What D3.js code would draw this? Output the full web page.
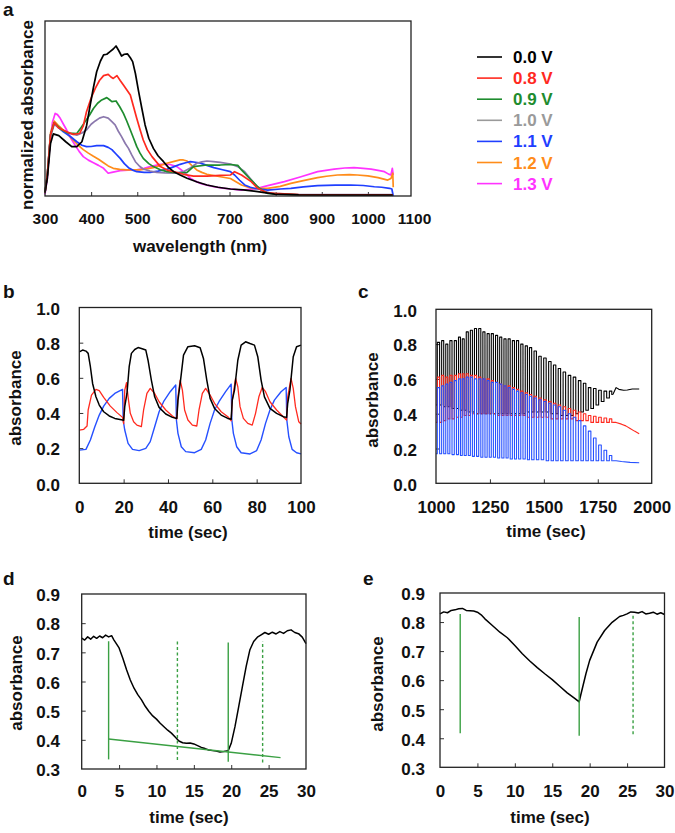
<!DOCTYPE html>
<html><head><meta charset="utf-8">
<script src="https://cdn.jsdelivr.net/npm/d3@7"></script>
<style>
body{margin:0;background:#fff}
svg{display:block;background:#fff}
text{font-family:'Liberation Sans',Arial,Helvetica,sans-serif;font-weight:bold}
</style>
</head><body>
<svg id="chart" width="675" height="833"></svg>
<script>
// ---------------- DATA ----------------
// Panel a: normalized absorbance spectra [wavelength nm, value]
const specLabels = ["0.0 V","0.8 V","0.9 V","1.0 V","1.1 V","1.2 V","1.3 V"];
const spec00 = [[300,0.02],[305,0.1],[312,0.3],[318,0.355],[330,0.345],[345,0.31],[358,0.282],[369,0.282],[380,0.31],[390,0.40],[398,0.52],[405,0.62],[412,0.71],[420,0.77],[427,0.806],[434,0.81],[441,0.825],[448,0.84],[454,0.857],[460,0.83],[466,0.80],[472,0.81],[479,0.812],[485,0.79],[490,0.768],[496,0.70],[503,0.596],[510,0.50],[517,0.406],[525,0.33],[535,0.272],[545,0.23],[557,0.196],[567,0.165],[579,0.139],[593,0.12],[608,0.101],[630,0.08],[651,0.063],[675,0.05],[702,0.04],[730,0.035],[761,0.025],[798,0.011],[850,0.006],[950,0.005],[1054,0.005]];
const spec08 = [[300,0.02],[305,0.12],[312,0.35],[320,0.42],[329,0.39],[347,0.367],[361,0.352],[375,0.357],[383,0.40],[390,0.482],[400,0.56],[409,0.615],[418,0.66],[427,0.688],[437,0.695],[443,0.68],[448,0.672],[456,0.688],[463,0.66],[470,0.634],[485,0.577],[492,0.51],[499,0.443],[506,0.38],[513,0.32],[522,0.265],[532,0.225],[550,0.168],[565,0.148],[579,0.139],[600,0.124],[622,0.114],[651,0.114],[680,0.118],[702,0.12],[711,0.139],[726,0.12],[747,0.082],[761,0.044],[780,0.02],[798,0.015],[850,0.008],[950,0.006],[1054,0.006]];
const spec09 = [[300,0.02],[305,0.12],[312,0.35],[320,0.42],[335,0.38],[350,0.36],[369,0.357],[378,0.39],[387,0.425],[396,0.46],[405,0.50],[414,0.53],[423,0.549],[434,0.562],[440,0.55],[445,0.539],[454,0.543],[462,0.51],[470,0.472],[477,0.43],[485,0.377],[492,0.33],[499,0.282],[506,0.245],[513,0.215],[525,0.185],[535,0.168],[550,0.15],[564,0.139],[593,0.13],[608,0.135],[622,0.168],[651,0.177],[680,0.177],[702,0.18],[718,0.175],[726,0.149],[740,0.11],[747,0.091],[761,0.053],[775,0.025],[783,0.015],[850,0.006],[950,0.005],[1054,0.005]];
const spec10 = [[300,0.02],[305,0.12],[312,0.34],[320,0.41],[335,0.38],[350,0.36],[369,0.348],[380,0.36],[390,0.377],[400,0.41],[409,0.429],[418,0.445],[427,0.453],[437,0.445],[445,0.425],[452,0.406],[459,0.37],[466,0.339],[474,0.30],[481,0.272],[488,0.235],[496,0.196],[505,0.17],[513,0.154],[528,0.142],[542,0.135],[560,0.132],[579,0.13],[600,0.139],[615,0.16],[629,0.187],[640,0.195],[651,0.2],[665,0.196],[680,0.192],[702,0.183],[718,0.168],[733,0.139],[745,0.1],[754,0.072],[768,0.034],[790,0.015],[850,0.008],[950,0.008],[1054,0.008]];
const spec11 = [[300,0.02],[305,0.12],[312,0.35],[320,0.415],[330,0.39],[340,0.367],[355,0.34],[369,0.31],[380,0.29],[390,0.282],[400,0.283],[412,0.288],[427,0.288],[437,0.278],[445,0.265],[454,0.24],[463,0.215],[472,0.185],[481,0.162],[490,0.148],[499,0.139],[515,0.135],[528,0.135],[545,0.142],[564,0.152],[580,0.168],[593,0.181],[605,0.19],[615,0.196],[626,0.193],[637,0.188],[651,0.175],[666,0.162],[685,0.15],[702,0.139],[711,0.12],[722,0.09],[733,0.063],[745,0.05],[754,0.044],[783,0.034],[810,0.04],[833,0.044],[860,0.052],[891,0.059],[930,0.062],[963,0.063],[990,0.06],[1014,0.053],[1030,0.05],[1047,0.044],[1052,0.04],[1055,0.0]];
const spec12 = [[300,0.02],[305,0.12],[312,0.36],[320,0.428],[330,0.40],[340,0.377],[350,0.35],[361,0.32],[372,0.29],[383,0.265],[394,0.245],[405,0.227],[416,0.21],[427,0.19],[437,0.172],[448,0.158],[462,0.152],[477,0.149],[506,0.149],[520,0.155],[535,0.162],[550,0.175],[564,0.187],[580,0.198],[593,0.206],[600,0.206],[608,0.2],[618,0.175],[629,0.149],[640,0.135],[651,0.124],[666,0.117],[680,0.11],[702,0.10],[726,0.063],[747,0.044],[783,0.044],[810,0.055],[833,0.072],[860,0.088],[891,0.105],[910,0.113],[934,0.12],[960,0.122],[977,0.12],[1000,0.115],[1022,0.105],[1043,0.091],[1050,0.1],[1054,0.13],[1055,0.05]];
const spec13 = [[300,0.01],[305,0.1],[311,0.31],[316,0.42],[322,0.472],[327,0.465],[333,0.444],[340,0.41],[347,0.377],[356,0.33],[365,0.291],[374,0.255],[383,0.225],[394,0.205],[405,0.19],[416,0.175],[427,0.158],[437,0.13],[445,0.135],[463,0.145],[480,0.148],[499,0.149],[515,0.158],[528,0.168],[540,0.175],[550,0.181],[560,0.182],[571,0.18],[586,0.168],[595,0.15],[600,0.139],[608,0.12],[615,0.101],[626,0.085],[637,0.072],[651,0.062],[666,0.053],[685,0.045],[702,0.04],[726,0.034],[754,0.04],[783,0.059],[819,0.082],[855,0.11],[891,0.139],[927,0.154],[950,0.16],[970,0.162],[990,0.158],[1007,0.154],[1025,0.145],[1036,0.139],[1045,0.125],[1050,0.12],[1053,0.158],[1055,0.12]];
const aTicks = [300,400,500,600,700,800,900,1000,1100];

// Panel b: absorbance vs time (0-100 s)
const bBlack = [[0,0.748],[1.5,0.758],[3,0.752],[4,0.739],[5,0.663],[6,0.568],[7.5,0.492],[9,0.445],[11,0.407],[13.5,0.383],[16,0.369],[19.5,0.36],[20,0.358],[20.5,0.436],[21.5,0.511],[22.5,0.663],[23.5,0.739],[25,0.761],[26.5,0.772],[28,0.767],[30,0.758],[31,0.70],[32.5,0.587],[34,0.492],[36,0.432],[39,0.394],[42,0.375],[44,0.369],[44.5,0.473],[45.5,0.568],[47,0.729],[49,0.777],[52,0.782],[54.5,0.771],[56,0.71],[57.5,0.587],[59,0.483],[61,0.426],[64,0.388],[67,0.369],[68.5,0.364],[69,0.473],[70,0.53],[71.5,0.70],[73,0.786],[75,0.805],[77,0.795],[79,0.786],[80.5,0.72],[82,0.587],[83.5,0.492],[86,0.426],[89,0.398],[92,0.379],[93.5,0.375],[94,0.455],[95,0.53],[96.5,0.72],[98,0.777],[100,0.786]];
const bRed = [[0,0.303],[2,0.307],[3.5,0.326],[4,0.417],[5.5,0.502],[7.5,0.534],[9,0.527],[11,0.489],[14,0.439],[17,0.402],[19.5,0.375],[20,0.34],[20.5,0.53],[21.3,0.572],[22,0.492],[23,0.398],[24.5,0.35],[26,0.331],[28,0.322],[29,0.417],[30.5,0.511],[32,0.54],[34,0.511],[36,0.464],[39,0.417],[42,0.383],[44,0.366],[44.5,0.492],[45.5,0.587],[46.5,0.53],[47.5,0.417],[49,0.36],[51,0.331],[53,0.326],[54,0.417],[55.5,0.511],[57,0.54],[59,0.502],[61,0.455],[64,0.407],[67,0.379],[68.5,0.356],[69,0.473],[70.5,0.597],[71.5,0.549],[72.5,0.436],[74,0.369],[76,0.341],[78,0.331],[79.5,0.398],[81,0.492],[82.5,0.545],[84,0.521],[86,0.464],[89,0.417],[92,0.379],[93.5,0.36],[94,0.492],[95.5,0.597],[96.5,0.54],[97.5,0.436],[99,0.35],[100,0.337]];
const bBlue = [[0,0.189],[3,0.193],[5,0.246],[7,0.322],[9,0.388],[11,0.439],[13.5,0.483],[16,0.511],[19.5,0.534],[19.8,0.36],[20.5,0.303],[22,0.227],[24,0.193],[27,0.186],[30,0.199],[32,0.237],[34,0.322],[36,0.407],[38,0.464],[41,0.521],[43.5,0.559],[43.8,0.36],[44.5,0.284],[46,0.208],[48,0.18],[52,0.174],[55,0.193],[57,0.246],[59,0.341],[61,0.417],[63,0.464],[66,0.521],[68.5,0.564],[68.8,0.36],[69.5,0.284],[71,0.208],[73,0.174],[77,0.167],[80,0.186],[82,0.246],[84,0.341],[86,0.417],[88,0.473],[91,0.521],[93.3,0.545],[93.6,0.36],[94.5,0.265],[96,0.193],[98,0.174],[100,0.167]];
const bTicksX = [0,20,40,60,80,100];
const absTicks = [0,0.2,0.4,0.6,0.8,1.0];

// Panel c: oscillation envelope, one peak / trough per cycle
const cPeakT = [1012,1031,1050,1069,1090,1109,1126,1145,1164,1183,1203,1222,1242,1261,1281,1300,1320,1339,1359,1378,1398,1419,1438,1460,1482,1505,1528,1550,1572,1595,1619,1642,1666,1689,1712,1736,1760,1785,1810];
const cBlackHi = [0.81,0.82,0.80,0.82,0.82,0.84,0.83,0.87,0.88,0.89,0.89,0.87,0.86,0.86,0.85,0.84,0.83,0.83,0.82,0.82,0.80,0.79,0.78,0.76,0.73,0.72,0.70,0.68,0.66,0.64,0.62,0.61,0.59,0.575,0.55,0.545,0.535,0.53,0.53];
const cBlackLo = [0.45,0.44,0.44,0.43,0.43,0.42,0.42,0.41,0.41,0.40,0.40,0.40,0.40,0.40,0.40,0.40,0.40,0.40,0.40,0.40,0.40,0.41,0.41,0.41,0.41,0.41,0.40,0.40,0.39,0.39,0.39,0.40,0.41,0.42,0.43,0.45,0.47,0.49,0.51];
const cRedHi = [0.61,0.62,0.61,0.62,0.62,0.63,0.63,0.63,0.62,0.62,0.61,0.60,0.60,0.59,0.58,0.57,0.56,0.56,0.55,0.54,0.53,0.52,0.51,0.50,0.49,0.48,0.47,0.46,0.45,0.44,0.43,0.42,0.41,0.40,0.39,0.385,0.38,0.375,0.37];
const cRedLo = [0.35,0.36,0.37,0.37,0.38,0.38,0.39,0.39,0.40,0.40,0.40,0.40,0.40,0.40,0.39,0.39,0.39,0.39,0.39,0.39,0.39,0.38,0.38,0.38,0.38,0.38,0.37,0.37,0.37,0.37,0.37,0.36,0.36,0.36,0.35,0.35,0.35,0.35,0.35];
const cBlueHi = [0.55,0.56,0.57,0.58,0.59,0.60,0.60,0.61,0.61,0.60,0.60,0.60,0.59,0.58,0.58,0.57,0.56,0.55,0.54,0.53,0.52,0.51,0.50,0.49,0.48,0.47,0.46,0.45,0.44,0.42,0.40,0.38,0.36,0.33,0.30,0.26,0.22,0.19,0.16];
const cBlueLo = [0.17,0.17,0.17,0.165,0.165,0.16,0.16,0.16,0.155,0.155,0.15,0.15,0.15,0.15,0.145,0.145,0.145,0.14,0.14,0.14,0.14,0.135,0.135,0.135,0.135,0.13,0.13,0.13,0.13,0.13,0.13,0.13,0.13,0.13,0.13,0.13,0.13,0.13,0.13];
const cBlackTail = [[1835,0.55],[1848,0.54],[1870,0.535],[1887,0.536],[1910,0.542],[1942,0.542]];
const cRedTail = [[1835,0.35],[1860,0.34],[1880,0.33],[1900,0.315],[1920,0.30],[1942,0.285]];
const cBlueTail = [[1835,0.13],[1860,0.125],[1900,0.12],[1942,0.118]];
const cTicksX = [1000,1250,1500,1750,2000];

// Panel d
const dBlack = [[0,0.749],[0.4,0.742],[0.8,0.753],[1.2,0.745],[1.6,0.755],[2,0.748],[2.4,0.756],[2.8,0.75],[3.2,0.759],[3.6,0.753],[4,0.757],[4.3,0.743],[5,0.715],[5.5,0.68],[6,0.64],[6.5,0.605],[7,0.577],[7.5,0.555],[8,0.537],[8.5,0.515],[9,0.497],[9.5,0.482],[10,0.471],[10.5,0.457],[11,0.445],[11.5,0.433],[12,0.423],[12.5,0.41],[13,0.396],[13.5,0.39],[14,0.388],[14.5,0.389],[15,0.386],[15.5,0.38],[16,0.374],[16.5,0.37],[17,0.365],[17.5,0.363],[18,0.362],[18.5,0.358],[19,0.36],[19.6,0.363],[20,0.388],[20.5,0.445],[21,0.514],[21.5,0.583],[22,0.652],[22.5,0.709],[23,0.737],[23.5,0.752],[24,0.76],[24.5,0.768],[25,0.762],[25.5,0.769],[26,0.763],[26.5,0.771],[27,0.765],[27.5,0.774],[28,0.777],[28.5,0.768],[29,0.764],[29.5,0.752],[30,0.73]];
const dSolid = [[3.6,0.333,0.738],[19.6,0.325,0.734]];
const dDashed = [[12.8,0.331,0.74],[24.2,0.322,0.738]];
const dFit = [[3.6,0.403],[26.6,0.339]];

// Panel e
const eBlack = [[0,0.828],[0.5,0.835],[1,0.832],[1.5,0.84],[2,0.842],[2.5,0.846],[3,0.847],[3.5,0.84],[4,0.839],[4.5,0.838],[5,0.834],[5.5,0.825],[6,0.811],[7,0.788],[8,0.765],[9,0.746],[10,0.719],[11,0.691],[12,0.666],[13,0.643],[14,0.622],[15,0.602],[16,0.579],[17,0.556],[18,0.537],[18.6,0.525],[18.8,0.548],[19.5,0.622],[20,0.668],[21,0.731],[22,0.771],[23,0.799],[24,0.819],[24.5,0.823],[25,0.828],[25.5,0.835],[26,0.834],[26.5,0.831],[27,0.836],[27.5,0.828],[28,0.83],[28.5,0.834],[29,0.827],[29.5,0.832],[30,0.826]];
const eSolid = [[2.7,0.417,0.828],[18.6,0.409,0.817]];
const eDashed = [[25.8,0.414,0.822]];
const deTicksX = [0,5,10,15,20,25,30];
const deTicksY = [0.3,0.4,0.5,0.6,0.7,0.8,0.9];

// ---------------- DRAWING ----------------
const FONT = "'Liberation Sans', Arial, Helvetica, sans-serif";
const svg = d3.select('#chart');
const GREEN = '#3aa043';

function panel(o) {
  const x = d3.scaleLinear().domain(o.xDomain).range(o.xRange);
  const y = d3.scaleLinear().domain(o.yDomain).range(o.yRange);
  const [fx0, fy0, fx1, fy1] = o.frame;
  const g = svg.append('g');
  const xa = d3.axisBottom(x).tickValues(o.xTicks).tickSizeInner(-4).tickSizeOuter(0)
    .tickPadding(o.xPad).tickFormat(o.xFmt);
  const gx = g.append('g').attr('transform', `translate(0,${fy1})`).call(xa)
    .attr('font-family', FONT).attr('font-size', o.fs);
  gx.select('.domain').remove();
  gx.selectAll('.tick line').attr('stroke', '#333')
    .filter(d => x(d) > fx1 - 1.5 || x(d) < fx0 + 1.5).remove();
  gx.selectAll('.tick text').attr('fill', '#111');
  if (o.yTicks) {
    const ya = d3.axisLeft(y).tickValues(o.yTicks).tickSizeInner(-4).tickSizeOuter(0)
      .tickPadding(o.yPad).tickFormat(d3.format('.1f'));
    const gy = g.append('g').attr('transform', `translate(${fx0},0)`).call(ya)
      .attr('font-family', FONT).attr('font-size', o.fs);
    gy.select('.domain').remove();
    gy.selectAll('.tick line').attr('stroke', '#333')
      .filter(d => y(d) < fy0 + 1.5 || y(d) > fy1 - 1.5).remove();
    gy.selectAll('.tick text').attr('fill', '#111').attr('dy', '0.4em');
  }
  const plot = g.append('g');
  g.append('rect').attr('x', fx0).attr('y', fy0).attr('width', fx1 - fx0).attr('height', fy1 - fy0)
    .attr('fill', 'none').attr('stroke', '#222').attr('stroke-width', 1.3);
  // titles
  g.append('text').attr('x', o.xTitle[0]).attr('y', o.xTitle[1]).attr('text-anchor', 'middle')
    .attr('font-size', 17).attr('fill', '#111').text(o.xTitleText);
  g.append('text').attr('transform', `translate(${o.yTitle[0]},${o.yTitle[1]}) rotate(-90)`)
    .attr('text-anchor', 'middle').attr('font-size', 17).attr('fill', '#111').text(o.yTitleText);
  g.append('text').attr('x', o.letter[0]).attr('y', o.letter[1]).attr('font-size', 19)
    .attr('fill', '#111').text(o.letterText);
  return {x, y, plot};
}

function drawLine(p, data, color, w, curve) {
  const line = d3.line().x(d => p.x(d[0])).y(d => p.y(d[1])).curve(curve || d3.curveLinear);
  p.plot.append('path').datum(data).attr('d', line).attr('fill', 'none')
    .attr('stroke', color).attr('stroke-width', w).attr('stroke-linejoin', 'round');
}

// ---- Panel a ----
const specSeries = [spec00, spec08, spec09, spec10, spec11, spec12, spec13];
const specLineColors = ['#000000', '#ff2a1f', '#1e8c2e', '#8b78ad', '#1f3fff', '#ff8c1a', '#ff33ff'];
const specTextColors = ['#000000', '#ff2a1f', '#1e8c2e', '#9a9a9a', '#1f3fff', '#ff8c1a', '#ff33ff'];
const pa = panel({
  xDomain: [300, 1100], xRange: [45, 414], yDomain: [0, 1], yRange: [196, 21],
  frame: [45, 21, 411, 196], xTicks: aTicks, xFmt: d3.format('d'), xPad: 17, fs: 15.5,
  xTitle: [200, 252], xTitleText: 'wavelength (nm)',
  yTitle: [33, 115], yTitleText: 'normalized absorbance',
  letter: [3, 16], letterText: 'a'
});
[6, 5, 4, 3, 2, 1, 0].forEach(i => drawLine(pa, specSeries[i], specLineColors[i], 1.7));

// legend
const leg = svg.append('g');
specLabels.forEach((lab, i) => {
  const yy = 57 + i * 21.1;
  leg.append('line').attr('x1', 477).attr('x2', 502).attr('y1', yy).attr('y2', yy)
    .attr('stroke', i === 3 ? '#9a9a9a' : specLineColors[i]).attr('stroke-width', 1.6);
  leg.append('text').attr('x', 513).attr('y', yy + 6).attr('font-size', 17)
    .attr('fill', specTextColors[i]).text(lab);
});

// ---- Panel b ----
const pb = panel({
  xDomain: [0, 100], xRange: [79.3, 301], yDomain: [0, 1], yRange: [483.3, 307.5],
  frame: [79.3, 307.5, 301, 483.3], xTicks: bTicksX, xFmt: d3.format('d'), xPad: 17.6,
  yTicks: absTicks, yPad: 19.3, fs: 17,
  xTitle: [188, 538], xTitleText: 'time (sec)',
  yTitle: [20.5, 398], yTitleText: 'absorbance',
  letter: [3, 298], letterText: 'b'
});
drawLine(pb, bBlue, '#2650ff', 1.4);
drawLine(pb, bRed, '#ff2a1f', 1.3);
drawLine(pb, bBlack, '#000000', 1.5);

// ---- Panel c ----
function cycles(hi, lo, tail) {
  const pts = [[1000, lo[0]]];
  cPeakT.forEach((t, i) => {
    const next = i < cPeakT.length - 1 ? cPeakT[i + 1] : t + 20;
    pts.push([t, hi[i]]);
    pts.push([(t + next) / 2, lo[i]]);
  });
  return pts;
}
const pc = panel({
  xDomain: [1000, 2000], xRange: [436, 651.7], yDomain: [0, 1], yRange: [483.3, 309.3],
  frame: [436, 309.3, 651.7, 483.3], xTicks: cTicksX, xFmt: d3.format('d'), xPad: 18,
  yTicks: absTicks, yPad: 19, fs: 17,
  xTitle: [546, 537], xTitleText: 'time (sec)',
  yTitle: [377.5, 400], yTitleText: 'absorbance',
  letter: [358, 298], letterText: 'c'
});
[[cBlackHi, cBlackLo, cBlackTail, '#000000'], [cRedHi, cRedLo, cRedTail, '#ff2a1f'], [cBlueHi, cBlueLo, cBlueTail, '#2650ff']]
  .forEach(([hi, lo, tail, col]) => {
    const pts = cycles(hi, lo);
    drawLine(pc, pts, col, 1.1, d3.curveStep);
    drawLine(pc, [pts[pts.length - 1]].concat(tail), col, 1.1);
  });

// ---- Panel d ----
function markers(p, arr, dashed) {
  p.plot.selectAll(null).data(arr).enter().append('line')
    .attr('x1', d => p.x(d[0])).attr('x2', d => p.x(d[0]))
    .attr('y1', d => p.y(d[1])).attr('y2', d => p.y(d[2]))
    .attr('stroke', GREEN).attr('stroke-width', 1.4)
    .attr('stroke-dasharray', dashed ? '3,2.5' : null);
}
const pd = panel({
  xDomain: [0, 30], xRange: [81.7, 306], yDomain: [0.3, 0.9], yRange: [769, 594],
  frame: [81.7, 594, 306, 769], xTicks: deTicksX, xFmt: d3.format('d'), xPad: 16,
  yTicks: deTicksY, yPad: 21.7, fs: 17,
  xTitle: [189, 823], xTitleText: 'time (sec)',
  yTitle: [22, 683], yTitleText: 'absorbance',
  letter: [3, 585], letterText: 'd'
});
drawLine(pd, dBlack, '#000000', 1.5);
markers(pd, dSolid, false);
markers(pd, dDashed, true);
drawLine(pd, dFit, GREEN, 1.4);

// ---- Panel e ----
const pe = panel({
  xDomain: [0, 30], xRange: [440, 664.5], yDomain: [0.3, 0.9], yRange: [767.3, 593],
  frame: [440, 593, 664.5, 767.3], xTicks: deTicksX, xFmt: d3.format('d'), xPad: 17.6,
  yTicks: deTicksY, yPad: 15, fs: 17,
  xTitle: [550, 823], xTitleText: 'time (sec)',
  yTitle: [383, 684], yTitleText: 'absorbance',
  letter: [363, 585], letterText: 'e'
});
drawLine(pe, eBlack, '#000000', 1.5);
markers(pe, eSolid, false);
markers(pe, eDashed, true);
</script>
</body></html>
